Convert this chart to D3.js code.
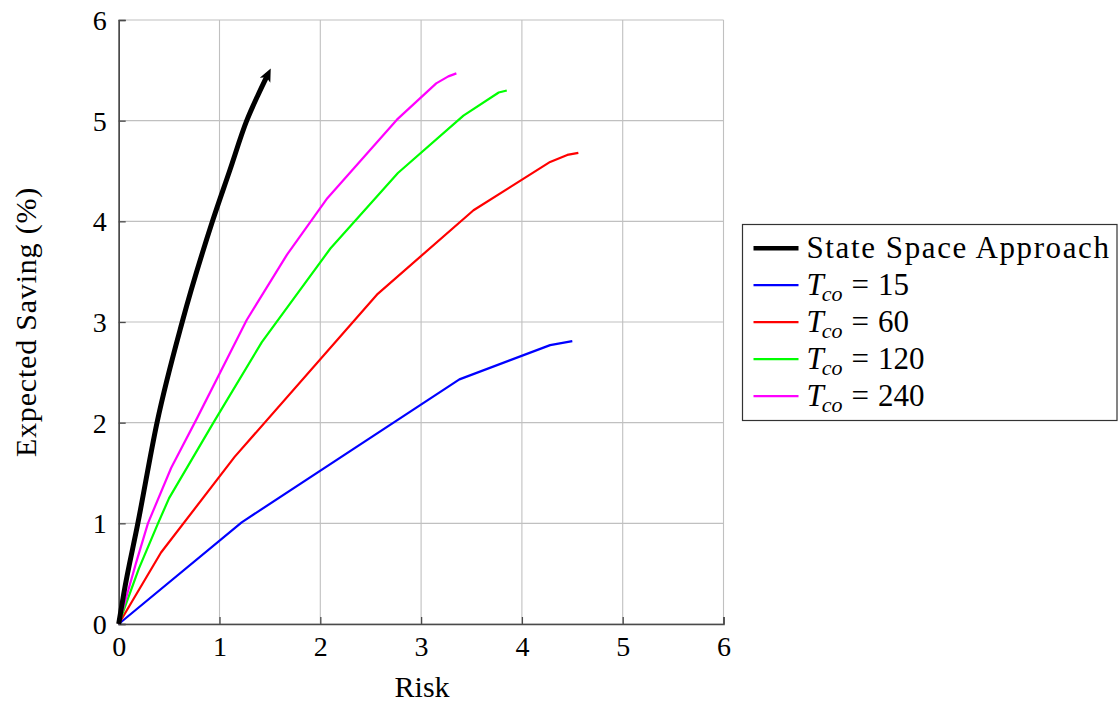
<!DOCTYPE html>
<html>
<head>
<meta charset="utf-8">
<script src="https://cdn.jsdelivr.net/npm/d3@7"></script>
<style>
  svg text, svg tspan { font-family: "Liberation Serif", "Times New Roman", Times, "DejaVu Serif", "Noto Serif" !important; }
</style>
</head>
<body style="margin:0">
<svg id="s" width="1118" height="706"></svg>
<script>
// ---- data ----
const xTicks = [0, 1, 2, 3, 4, 5, 6];
const yTicks = [0, 1, 2, 3, 4, 5, 6];

const stateSpaceX = [0, 0.05, 0.19, 0.38, 0.63, 0.93, 1.10, 1.27, 1.38, 1.48];
const stateSpaceY = [0, 0.30, 1.00, 2.00, 3.00, 4.00, 4.50, 5.00, 5.25, 5.46];

const tco15X = [0, 1.22, 3.38, 4.28, 4.50];
const tco15Y = [0, 1.01, 2.43, 2.77, 2.81];

const tco60X = [0, 0.42, 1.15, 2.57, 3.52, 4.28, 4.45, 4.56];
const tco60Y = [0, 0.71, 1.66, 3.28, 4.11, 4.59, 4.66, 4.68];

const tco120X = [0, 0.20, 0.39, 0.50, 0.94, 1.42, 2.10, 2.77, 3.42, 3.77, 3.85];
const tco120Y = [0, 0.55, 1.00, 1.25, 2.00, 2.80, 3.73, 4.48, 5.05, 5.28, 5.30];

const tco240X = [0, 0.17, 0.29, 0.52, 0.78, 1.27, 1.67, 2.07, 2.76, 3.15, 3.27, 3.35];
const tco240Y = [0, 0.60, 1.00, 1.55, 2.05, 3.02, 3.67, 4.23, 5.01, 5.37, 5.44, 5.47];

const seriesNames = ["State Space Approach", "15", "60", "120", "240"];
const seriesColors = ["#000000", "#0000ff", "#ff0000", "#00ff00", "#ff00ff"];
const seriesWidths = [5, 2.2, 2.2, 2.2, 2.2];

// ---- chart ----
const FONT = `"Liberation Serif", "Times New Roman", Times, "DejaVu Serif"`;
const svg = d3.select("#s");
const x = d3.scaleLinear().domain([0, 6]).range([118.7, 723.5]);
const y = d3.scaleLinear().domain([0, 6]).range([624, 20]);

const gridColor = "#c0c0c0";
const axisColor = "#4a4a4a";

// grid
const grid = svg.append("g");
grid.selectAll("line.gx").data(xTicks).join("line")
  .attr("x1", d => x(d)).attr("x2", d => x(d))
  .attr("y1", y(0)).attr("y2", y(6))
  .attr("stroke", gridColor).attr("stroke-width", 1.1);
grid.selectAll("line.gy").data(yTicks).join("line")
  .attr("y1", d => y(d)).attr("y2", d => y(d))
  .attr("x1", x(0)).attr("x2", x(6))
  .attr("stroke", gridColor).attr("stroke-width", 1.1);

// axes
const xAxis = d3.axisBottom(x).tickValues(xTicks).tickSize(-7).tickPadding(12).tickFormat(d3.format("d"));
const yAxis = d3.axisLeft(y).tickValues(yTicks).tickSize(-7).tickPadding(12).tickFormat(d3.format("d"));

const gx = svg.append("g").attr("transform", `translate(0,${y(0)})`).call(xAxis);
const gy = svg.append("g").attr("transform", `translate(${x(0)},0)`).call(yAxis);
[gx, gy].forEach(g => {
  g.attr("font-family", FONT).attr("font-size", 28);
  g.select(".domain").attr("stroke", axisColor).attr("stroke-width", 1.6);
  g.selectAll(".tick line").attr("stroke", axisColor).attr("stroke-width", 1.3);
  g.selectAll(".tick text").attr("fill", "#000").style("font-family", FONT, "important").style("font-size", "28px");
});
gx.selectAll(".tick text").attr("dy", "0.71em");
gy.selectAll(".tick text").attr("dy", "0.34em");

// arrow marker
svg.append("defs").append("marker")
  .attr("id", "arrow").attr("viewBox", "0 -5 10 10")
  .attr("refX", 5).attr("refY", 0)
  .attr("markerWidth", 2.6).attr("markerHeight", 2.6)
  .attr("markerUnits", "strokeWidth")
  .attr("orient", "auto")
  .append("path").attr("d", "M0,-4.5 L10,0 L0,4.5 L2.5,0 Z").attr("fill", "#000");

// lines
const allX = [stateSpaceX, tco15X, tco60X, tco120X, tco240X];
const allY = [stateSpaceY, tco15Y, tco60Y, tco120Y, tco240Y];
const lineSmooth = d3.line().x(d => x(d[0])).y(d => y(d[1])).curve(d3.curveMonotoneX);
const line = d3.line().x(d => x(d[0])).y(d => y(d[1]));
const order = [1, 2, 3, 4, 0];
order.forEach(i => {
  const pts = allX[i].map((v, k) => [v, allY[i][k]]);
  const p = svg.append("path").datum(pts)
    .attr("d", i === 0 ? lineSmooth : line)
    .attr("fill", "none")
    .attr("stroke", seriesColors[i])
    .attr("stroke-width", seriesWidths[i])
    .attr("stroke-linejoin", "round");
  if (i === 0) p.attr("marker-end", "url(#arrow)");
});

// axis labels
svg.append("text").attr("x", (x(0) + x(6)) / 2 + 1).attr("y", 697)
  .attr("text-anchor", "middle").style("font-family", FONT, "important").style("font-size", "30px").text("Risk");
svg.append("text").attr("transform", `translate(36,${(y(0) + y(6)) / 2}) rotate(-90)`)
  .attr("text-anchor", "middle").style("font-family", FONT, "important").style("font-size", "30px")
  .attr("letter-spacing", 0.8).text("Expected Saving (%)");

// legend
const lg = svg.append("g");
lg.append("rect").attr("x", 742.5).attr("y", 224.5).attr("width", 374.5).attr("height", 196)
  .attr("fill", "#fff").attr("stroke", "#333").attr("stroke-width", 1.2);
const rowY = [248.3, 285.2, 322.2, 359.2, 396.2];
seriesNames.forEach((name, i) => {
  lg.append("line").attr("x1", 753.5).attr("x2", 798.5).attr("y1", rowY[i]).attr("y2", rowY[i])
    .attr("stroke", seriesColors[i]).attr("stroke-width", i === 0 ? 4.5 : 2.2);
  const t = lg.append("text").attr("x", 806.5).attr("y", rowY[i] + 10)
    .style("font-family", FONT, "important").style("font-size", "31px");
  if (i === 0) {
    t.attr("letter-spacing", 1.6).text(name);
  } else {
    t.append("tspan").style("font-style", "italic").text("T");
    t.append("tspan").style("font-style", "italic").style("font-size", "22px").attr("dy", 6).attr("dx", -2).text("co");
    t.append("tspan").attr("dy", -6).attr("dx", 9).text("=");
    t.append("tspan").attr("dx", 9).text(name);
  }
});
</script>
</body>
</html>
